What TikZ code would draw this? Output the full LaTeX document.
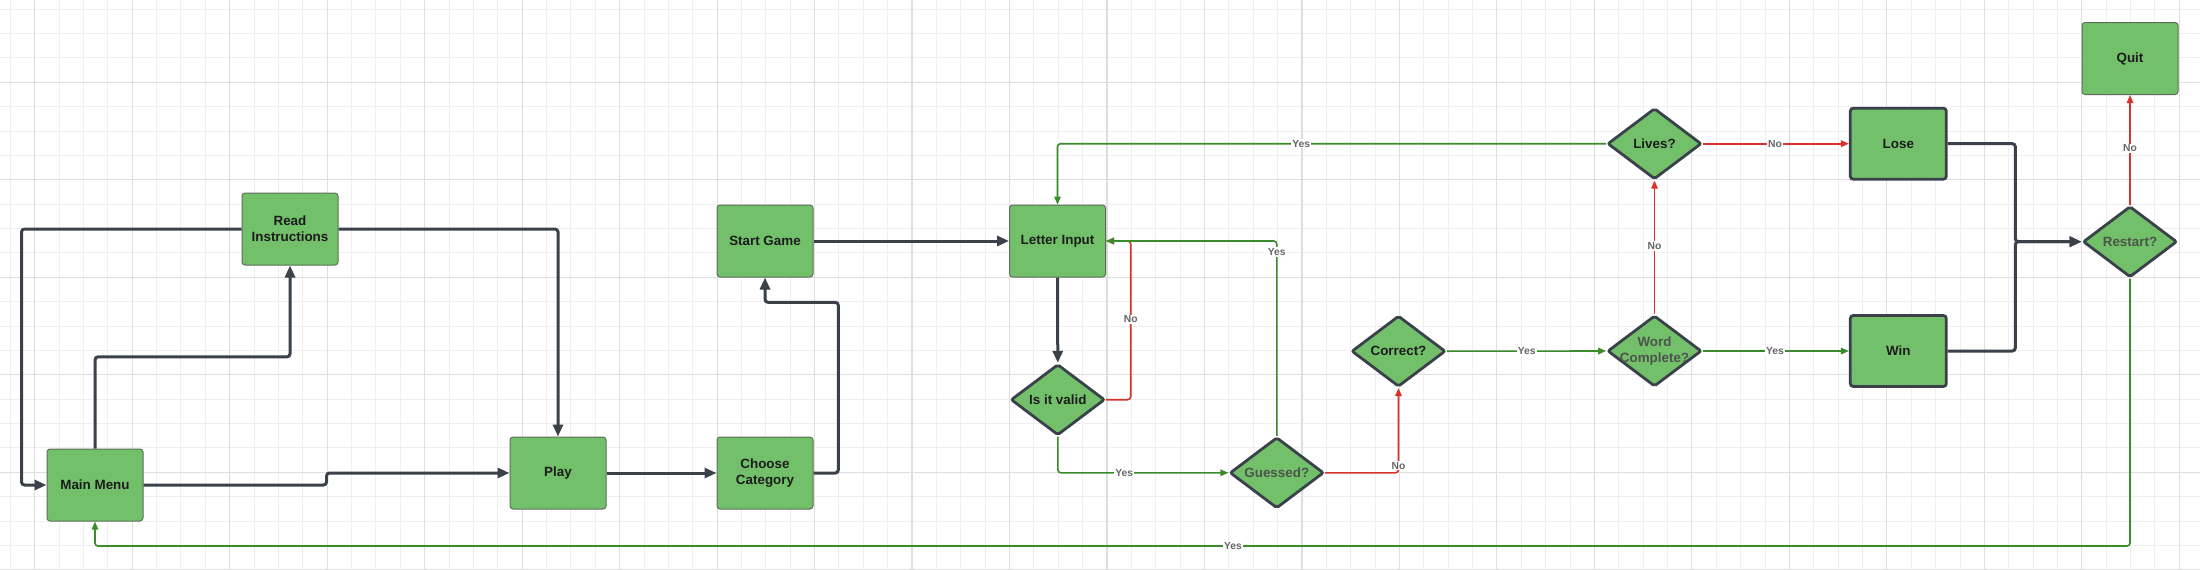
\documentclass[tikz,border=0pt]{standalone}
\usepackage{fontspec}
\setmainfont{Liberation Sans}
\usetikzlibrary{arrows.meta,shapes.geometric}
\definecolor{nodegreen}{HTML}{73C06B}
\definecolor{darkline}{HTML}{3A414A}
\definecolor{greenline}{HTML}{3A8B2A}
\definecolor{redline}{HTML}{D8322B}
\definecolor{thinborder}{HTML}{5E6E5A}
\definecolor{gridminor}{HTML}{EFEFEF}
\definecolor{gridmajor}{HTML}{DEDEDE}
\definecolor{boxtext}{HTML}{1C1C1C}
\definecolor{greytext}{HTML}{4C544C}
\definecolor{lbltext}{HTML}{666666}
\tikzset{
  box/.style={rectangle, rounded corners=3pt, fill=nodegreen, draw=thinborder, line width=1pt,
    minimum width=96pt, minimum height=72pt, inner sep=0pt, align=center,
    font=\bfseries\fontsize{13.4}{16.3}\selectfont, text=boxtext},
  thickbox/.style={box, draw=darkline, line width=2.8pt, minimum width=96pt, minimum height=71pt},
  dia/.style={diamond, fill=nodegreen, draw=darkline, line width=2.8pt, rounded corners=2pt,
    minimum width=94pt, minimum height=71pt, inner sep=0pt},
  dlbl/.style={align=center, inner sep=0pt, font=\bfseries\fontsize{13.4}{16.3}\selectfont, text=boxtext},
  dlblg/.style={dlbl, text=greytext},
  dk/.style={draw=darkline, line width=3pt, rounded corners=3pt, -{Triangle[length=12pt,width=10pt]}},
  gn/.style={draw=greenline, line width=1.6pt, rounded corners=3pt, -{Triangle[length=8pt,width=6.5pt]}},
  rd/.style={draw=redline, line width=1.6pt, rounded corners=3pt, -{Triangle[length=8pt,width=6.5pt]}},
  lbl/.style={fill=white, inner sep=1pt, font=\bfseries\fontsize{10.3}{12}\selectfont, text=lbltext},
  gminor/.style={draw=gridminor, line width=0.9pt},
  gmajor/.style={draw=gridmajor, line width=1.1pt},
}
\begin{document}
\begin{tikzpicture}[x=1pt,y=-1pt]
\useasboundingbox (0,0) rectangle (2200,570);
\fill[white] (0,0) rectangle (2200,570);
% grid
\foreach \i in {0,...,90} {\draw[gminor] ({10.33+24.37*\i},0) -- ++(0,570);}
\foreach \j in {0,...,23} {\draw[gminor] (0,{9.19+24.37*\j}) -- ++(2200,0);}
\foreach \i in {0,...,22} {\draw[gmajor] ({34.7+97.48*\i},0) -- ++(0,570);}
\foreach \j in {0,...,5} {\draw[gmajor] (0,{82.3+97.5*\j}) -- ++(2200,0);}

% nodes
\node[box] (mm) at (95,485) {Main Menu};
\node[box] (ri) at (290,229) {Read\\Instructions};
\node[box] (play) at (558,473) {Play};
\node[box] (cc) at (765,473) {Choose\\Category};
\node[box] (sg) at (765,241) {Start Game};
\node[box] (li) at (1057.5,241) {Letter Input};
\node[dia, label={[dlbl]center:Is it valid}] (iv) at (1057.8,399.7) {};
\node[dia, label={[dlblg]center:Guessed?}] (gu) at (1276.8,472.8) {};
\node[dia, label={[dlbl]center:Correct?}] (co) at (1398.5,351.2) {};
\node[dia, label={[dlblg]center:{Word\\Complete?}}] (wc) at (1654.5,351) {};
\node[dia, label={[dlbl]center:Lives?}] (lv) at (1654.5,143.7) {};
\node[thickbox] (lose) at (1898.3,143.7) {Lose};
\node[thickbox] (win) at (1898.3,351) {Win};
\node[dia, label={[dlblg]center:Restart?}] (rs) at (2130,241.7) {};
\node[box] (quit) at (2130,58.5) {Quit};

% dark connectors
\draw[dk] (ri.west) -| ([xshift=-25pt]mm.west) -- (mm.west);
\draw[dk] (mm.north) -- ++(0,-91.6) -| (ri.south);
\draw[dk] (ri.east) -| (play.north);
\draw[dk] (mm.east) -| ++(183,-12) -- (play.west);
\draw[dk] (play.east) -- (cc.west);
\draw[dk] (cc.east) -| (838.3,302.3) -| (sg.south);
\draw[dk] (sg.east) -- (li.west);
\draw[dk] (li.south) -- (iv.north);
\draw[dk] (lose.east) -| (2015.3,241.7) -- (rs.west);
\draw[dk] (win.east) -| (2015.3,241.7) -- (rs.west);

% red connectors
\draw[rd] (iv.east) -| (1130.7,241) -- (li.east);
\draw[rd] (gu.east) -| (co.south);
\draw[rd] (wc.north) -- (lv.south);
\draw[rd] (lv.east) -- (lose.west);
\draw[rd] (rs.north) -- (quit.south);

% green connectors
\draw[gn] (iv.south) |- (gu.west);
\draw[gn] (gu.north) |- (li.east);
\draw[gn] (co.east) -- (wc.west);
\draw[gn] (wc.east) -- (win.west);
\draw[gn] (lv.west) -| (li.north);
\draw[gn] (rs.south) -- (2130,546) -| (mm.south);

% labels
\node[lbl] (l1) at (1130.7,319.3) {No};
\node[lbl] (l2) at (1124.3,472.8) {Yes};
\node[lbl] (l3) at (1276.8,252) {Yes};
\node[lbl] (l4) at (1398.5,465.7) {No};
\node[lbl] (l5) at (1526.8,351) {Yes};
\node[lbl] (l6) at (1654.5,246) {No};
\node[lbl] (l7) at (1775,351) {Yes};
\node[lbl] (l8) at (1775,143.7) {No};
\node[lbl] (l9) at (1301.3,143.7) {Yes};
\node[lbl] (l10) at (2130,148.3) {No};
\node[lbl] (l11) at (1233,546) {Yes};
\end{tikzpicture}
\end{document}
